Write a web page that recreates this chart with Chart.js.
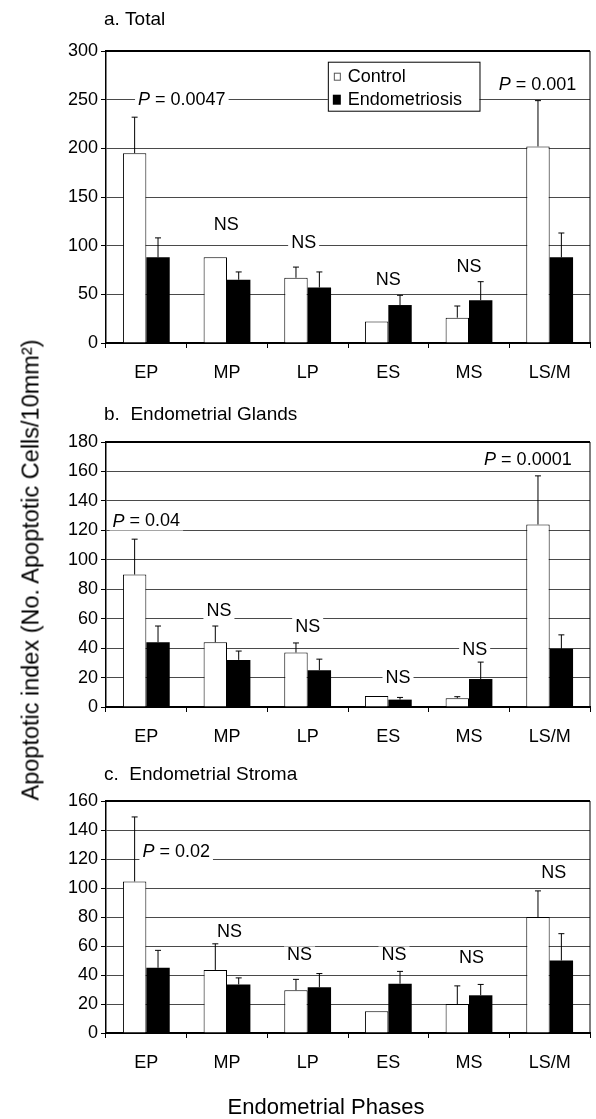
<!DOCTYPE html>
<html>
<head>
<meta charset="utf-8">
<script src="https://cdn.jsdelivr.net/npm/chart.js@4.4.0/dist/chart.umd.min.js"></script>
<style>
  body { margin: 0; background: #fff; }
  #page { position: relative; width: 596px; height: 1119px; overflow: hidden; font-family: 'Liberation Sans', Arial, sans-serif; color: #000; }
  canvas { position: absolute; left: 0; }
  #ytitle { position: absolute; left: 31px; top: 570px; transform: translate(-50%, -50%) rotate(-90deg); white-space: nowrap; font-size: 23.5px; }
  #xtitle { position: absolute; left: 326px; top: 1107px; transform: translate(-50%, -50%); white-space: nowrap; font-size: 22px; }
</style>
</head>
<body>
<div id="page">
  <canvas id="chartA" width="596" height="400" style="top:0px"></canvas>
  <canvas id="chartB" width="596" height="360" style="top:400px"></canvas>
  <canvas id="chartC" width="596" height="359" style="top:760px"></canvas>
  <div id="ytitle">Apoptotic index (No. Apoptotic Cells/10mm²)</div>
  <div id="xtitle">Endometrial Phases</div>
</div>
<script>
// categories and series
const phases = ['EP', 'MP', 'LP', 'ES', 'MS', 'LS/M'];
const seriesNames = ['Control', 'Endometriosis'];

// a. Total
const totalControl = [195, 88, 67, 22, 26, 202];
const totalControlErr = [37, 0, 11, 0, 12, 47];
const totalEndo = [88, 65, 57, 39, 44, 88];
const totalEndoErr = [20, 8, 16, 10, 19, 25];
const totalTicks = [0, 50, 100, 150, 200, 250, 300];

// b. Endometrial Glands
const glandsControl = [90, 44, 37, 7.5, 6, 124];
const glandsControlErr = [24, 11, 6.5, 0, 1, 33];
const glandsEndo = [44, 32, 25, 5, 19, 39.5];
const glandsEndoErr = [11, 6, 7.5, 1.5, 11.5, 9.5];
const glandsTicks = [0, 20, 40, 60, 80, 100, 120, 140, 160, 180];

// c. Endometrial Stroma
const stromaControl = [104.5, 43.5, 29.5, 15, 20, 80];
const stromaControlErr = [44.5, 18, 7.5, 0, 12.5, 18];
const stromaEndo = [45, 33.5, 31.5, 34, 26, 50];
const stromaEndoErr = [12, 4.5, 9.5, 8.5, 7.5, 18.5];
const stromaTicks = [0, 20, 40, 60, 80, 100, 120, 140, 160];

// significance notes: text, category position, value
const totalNotes = [
    ['P = 0.0047', 0.44, 250], ['NS', 0.99, 121], ['NS', 1.95, 103],
    ['NS', 3.0, 65], ['NS', 4.0, 78], ['P = 0.001', 4.85, 265]
];
const glandsNotes = [
    ['P = 0.04', 0.0, 126], ['NS', 0.9, 65], ['NS', 2.0, 54.5],
    ['NS', 3.12, 19.5], ['NS', 4.07, 39], ['P = 0.0001', 4.73, 168]
];
const stromaNotes = [
    ['P = 0.02', 0.37, 125], ['NS', 1.03, 69.5], ['NS', 1.9, 53.5],
    ['NS', 3.07, 53.5], ['NS', 4.03, 51.7], ['NS', 5.05, 110.6]
];

const FONT = "'Liberation Sans', Arial, sans-serif";

function catX(scale, at) {
    let x0 = scale.getPixelForValue(0);
    let x1 = scale.getPixelForValue(1);
    return x0 + at * (x1 - x0);
}

function drawNote(ctx, text, x, y) {
    let italic = text.startsWith('P ');
    let rest = italic ? text.slice(1) : text;
    ctx.font = 'italic 18px ' + FONT;
    let pw = italic ? ctx.measureText('P').width : 0;
    ctx.font = '18px ' + FONT;
    let rw = ctx.measureText(rest).width;
    let w = pw + rw;
    let left = x - w / 2;
    ctx.fillStyle = '#fff';
    ctx.fillRect(left - 3, y - 9, w + 6, 18);
    ctx.fillStyle = '#000';
    ctx.textBaseline = 'middle';
    ctx.textAlign = 'left';
    if (italic) {
        ctx.font = 'italic 18px ' + FONT;
        ctx.fillText('P', left, y);
    }
    ctx.font = '18px ' + FONT;
    ctx.fillText(rest, left + pw, y);
}

const panelDecor = {
    id: 'panelDecor',
    afterDraw(chart, args, opts) {
        const ctx = chart.ctx;
        const area = chart.chartArea;
        const xs = chart.scales.x;
        const ys = chart.scales.y;
        ctx.save();

        // box round the plot
        ctx.strokeStyle = '#000';
        ctx.lineWidth = 2;
        ctx.beginPath();
        ctx.moveTo(area.left, area.top);
        ctx.lineTo(area.right, area.top);
        ctx.stroke();
        ctx.lineWidth = 1;
        ctx.beginPath();
        ctx.moveTo(area.right, area.top);
        ctx.lineTo(area.right, area.bottom);
        ctx.stroke();

        // error bars (upper only)
        chart.data.datasets.forEach((ds, i) => {
            let meta = chart.getDatasetMeta(i);
            meta.data.forEach((bar, j) => {
                let err = ds.errors[j];
                if (!err) return;
                let yTop = ys.getPixelForValue(ds.data[j] + err);
                ctx.strokeStyle = '#000';
                ctx.lineWidth = 1;
                ctx.beginPath();
                ctx.moveTo(bar.x, bar.y);
                ctx.lineTo(bar.x, yTop);
                ctx.moveTo(bar.x - 3, yTop);
                ctx.lineTo(bar.x + 3, yTop);
                ctx.stroke();
            });
        });

        // notes
        opts.notes.forEach((n) => {
            drawNote(ctx, n[0], catX(xs, n[1]), ys.getPixelForValue(n[2]));
        });

        // panel title
        ctx.fillStyle = '#000';
        ctx.font = '19px ' + FONT;
        ctx.textAlign = 'left';
        ctx.textBaseline = 'middle';
        ctx.fillText(opts.title, area.left - 2, area.top - opts.titleGap);

        // legend
        if (opts.legend) {
            let left = catX(xs, 2.25);
            let right = catX(xs, 4.13);
            let top = ys.getPixelForValue(289);
            let h = 49;
            ctx.fillStyle = '#fff';
            ctx.fillRect(left, top, right - left, h);
            ctx.strokeStyle = '#000';
            ctx.lineWidth = 1;
            ctx.strokeRect(left + 0.5, top + 0.5, right - left, h);
            chart.data.datasets.forEach((ds, i) => {
                let cy = top + 15 + i * 23;
                if (i === 0) {
                    ctx.fillStyle = '#fff';
                    ctx.fillRect(left + 6, cy - 4, 6, 7);
                    ctx.strokeStyle = '#555';
                    ctx.strokeRect(left + 6.5, cy - 3.5, 6, 7);
                } else {
                    ctx.fillStyle = '#000';
                    ctx.fillRect(left + 5, cy - 5, 8, 10);
                }
                ctx.fillStyle = '#000';
                ctx.font = '18px ' + FONT;
                ctx.fillText(ds.label, left + 20, cy);
            });
        }
        ctx.restore();
    }
};

function makePanel(id, title, titleGap, control, controlErr, endo, endoErr, ticks, notes, legend, pad) {
    const ctx = document.getElementById(id);
    return new Chart(ctx, {
        type: 'bar',
        data: {
            labels: phases,
            datasets: [{
                label: seriesNames[0],
                data: control,
                errors: controlErr,
                backgroundColor: '#fff',
                borderColor: '#000',
                borderWidth: 1,
                borderSkipped: 'bottom'
            }, {
                label: seriesNames[1],
                data: endo,
                errors: endoErr,
                backgroundColor: '#000',
                borderColor: '#000',
                borderWidth: 0
            }]
        },
        options: {
            responsive: false,
            animation: false,
            devicePixelRatio: 1,
            categoryPercentage: 0.58,
            barPercentage: 1.0,
            layout: { padding: pad },
            plugins: {
                legend: { display: false },
                tooltip: { enabled: false },
                panelDecor: { title: title, titleGap: titleGap, notes: notes, legend: legend }
            },
            scales: {
                x: {
                    offset: true,
                    grid: { display: true, drawOnChartArea: false, offset: true, tickLength: 5, color: '#000' },
                    border: { display: true, color: '#000', width: 2 },
                    ticks: { color: '#000', font: { size: 18, family: FONT }, padding: 14, maxRotation: 0 },
                    afterFit: (s) => { s.height = 40; }
                },
                y: {
                    min: ticks[0],
                    max: ticks[ticks.length - 1],
                    ticks: { stepSize: ticks[1] - ticks[0], color: '#000', font: { size: 18, family: FONT }, padding: 3 },
                    grid: { color: '#4a4a4a', lineWidth: 1, tickLength: 5, tickColor: '#000' },
                    border: { display: true, color: '#000', width: 1.5 },
                    afterFit: (s) => { s.width = 50; }
                }
            }
        },
        plugins: [panelDecor]
    });
}

makePanel('chartA', 'a. Total', 31, totalControl, totalControlErr, totalEndo, totalEndoErr,
    totalTicks, totalNotes, true, { left: 56, right: 6, top: 51, bottom: 17 });
makePanel('chartB', 'b.  Endometrial Glands', 27, glandsControl, glandsControlErr, glandsEndo, glandsEndoErr,
    glandsTicks, glandsNotes, false, { left: 56, right: 6, top: 42, bottom: 13 });
makePanel('chartC', 'c.  Endometrial Stroma', 26, stromaControl, stromaControlErr, stromaEndo, stromaEndoErr,
    stromaTicks, stromaNotes, false, { left: 56, right: 6, top: 41, bottom: 46 });
</script>
</body>
</html>
